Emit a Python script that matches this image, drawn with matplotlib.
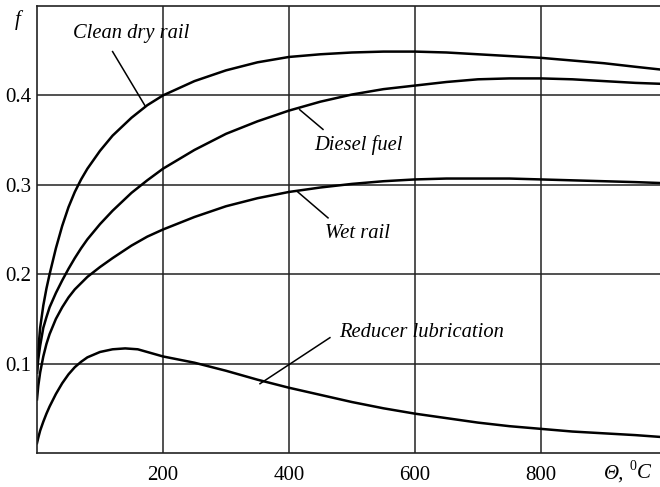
import matplotlib
matplotlib.use('Agg')
from matplotlib import pyplot as plt

plt.rcParams['font.family'] = ['Liberation Serif', 'DejaVu Serif']

# temperature, deg C
theta = [0, 2, 5, 10, 15, 20, 30, 40, 50, 60, 70, 80, 100, 120, 150, 175,
         200, 250, 300, 350, 400, 450, 500, 550, 600, 650, 700, 750, 800,
         850, 900, 950, 989]
clean_dry = [0.09, 0.115, 0.14, 0.165, 0.184, 0.20, 0.229, 0.254, 0.275,
             0.292, 0.306, 0.318, 0.338, 0.355, 0.375, 0.389, 0.40, 0.416,
             0.428, 0.437, 0.443, 0.446, 0.448, 0.449, 0.449, 0.448, 0.446,
             0.444, 0.442, 0.439, 0.436, 0.432, 0.429]
diesel = [0.09, 0.105, 0.12, 0.14, 0.152, 0.163, 0.179, 0.193, 0.206, 0.218,
          0.229, 0.239, 0.256, 0.271, 0.291, 0.305, 0.318, 0.339, 0.357,
          0.371, 0.383, 0.393, 0.401, 0.407, 0.411, 0.415, 0.418, 0.419,
          0.419, 0.418, 0.416, 0.414, 0.413]
wet = [0.06, 0.075, 0.09, 0.108, 0.122, 0.133, 0.15, 0.163, 0.174, 0.183,
       0.19, 0.197, 0.208, 0.218, 0.232, 0.242, 0.25, 0.264, 0.276, 0.285,
       0.292, 0.297, 0.301, 0.304, 0.306, 0.307, 0.307, 0.307, 0.306, 0.305,
       0.304, 0.303, 0.302]
theta_red = [0, 2, 5, 10, 15, 20, 30, 40, 50, 60, 70, 80, 100, 120, 140, 160,
             180, 200, 250, 300, 350, 400, 450, 500, 550, 600, 650, 700, 750,
             800, 850, 900, 950, 989]
reducer = [0.011, 0.017, 0.025, 0.035, 0.044, 0.052, 0.066, 0.078, 0.088,
           0.096, 0.102, 0.107, 0.113, 0.116, 0.117, 0.116, 0.112, 0.108,
           0.101, 0.092, 0.082, 0.073, 0.065, 0.057, 0.05, 0.044, 0.039,
           0.034, 0.030, 0.027, 0.024, 0.022, 0.020, 0.018]

x_ticks = [200, 400, 600, 800]
y_ticks = [0.1, 0.2, 0.3, 0.4]

# label text, text position, leader line start (at text), end (on curve)
labels = [
    ('Clean dry rail', (150, 0.469), (120, 0.449), (171, 0.389)),
    ('Diesel fuel', (511, 0.345), (454, 0.362), (417, 0.384)),
    ('Wet rail', (509, 0.246), (462, 0.263), (414, 0.292)),
    ('Reducer lubrication', (610, 0.135), (465, 0.129), (354, 0.0775)),
]

fig = plt.figure(figsize=(6.6, 4.87), dpi=100)
ax = fig.add_axes([37 / 660, 34 / 487, 623 / 660, 447 / 487])

for ys, xs in [(clean_dry, theta), (diesel, theta), (wet, theta),
               (reducer, theta_red)]:
    ax.plot(xs, ys, color='black', lw=1.8, solid_joinstyle='round')

for t, tpos, p0, p1 in labels:
    ax.text(tpos[0], tpos[1], t, ha='center', va='center', style='italic',
            fontsize=14.8)
    ax.plot([p0[0], p1[0]], [p0[1], p1[1]], color='black', lw=1.1)

ax.set_xlim(0, 989)
ax.set_ylim(0, 0.5)
ax.set_xticks(x_ticks)
ax.set_yticks(y_ticks)
ax.set_xticklabels([str(v) for v in x_ticks])
ax.set_yticklabels(['%.1f' % v for v in y_ticks])
ax.tick_params(length=0, labelsize=15, colors='black')
ax.tick_params(axis='x', pad=9)
ax.tick_params(axis='y', pad=4)
ax.grid(True, color='#222222', lw=1.1)
ax.set_axisbelow(True)
for side in ['left', 'bottom', 'top']:
    ax.spines[side].set_linewidth(1.2)
    ax.spines[side].set_color('#222222')
ax.spines['right'].set_visible(False)

fig.text(18 / 660, 1 - 20 / 487, 'f', style='italic', fontsize=15,
         ha='center', va='center')
# x axis label: "Θ, ⁰C"
fig.text(604 / 660, 1 - 474 / 487, 'Θ,', style='italic', fontsize=15,
         ha='left', va='center')
fig.text(630 / 660, 1 - 467 / 487, '0', fontsize=10, ha='left',
         va='center')
fig.text(637 / 660, 1 - 474 / 487, 'C', style='italic', fontsize=15,
         ha='left', va='center')

fig.savefig('out.png', dpi=100)
